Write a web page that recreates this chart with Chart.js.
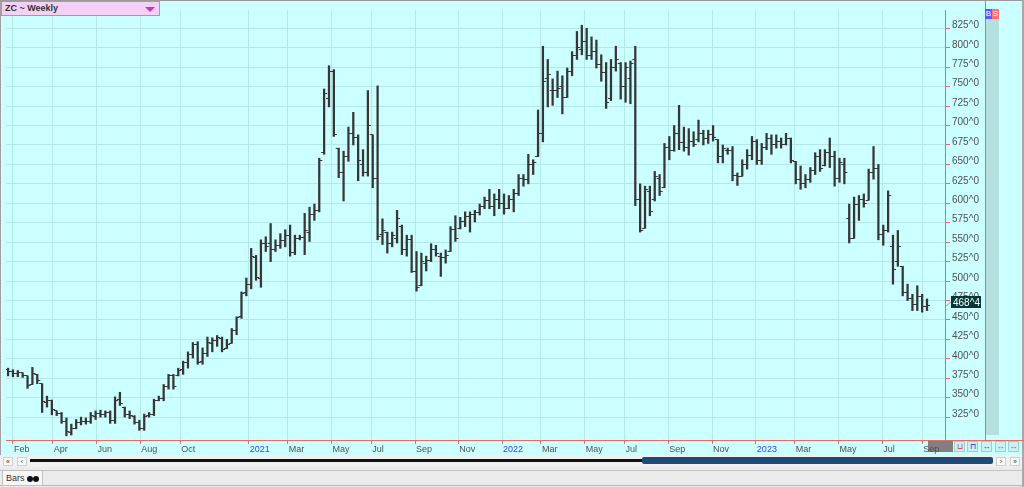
<!DOCTYPE html>
<html>
<head>
<meta charset="utf-8">
<script src="https://cdn.jsdelivr.net/npm/chart.js@4/dist/chart.umd.min.js"></script>
<style>
body{margin:0;width:1024px;height:487px;overflow:hidden;background:#ececec;font-family:"Liberation Sans",Arial,sans-serif;position:relative}
#pane{position:absolute;left:0;top:0;width:1024px;height:455px;background:#ccffff}
#wrap{position:absolute;left:1px;top:2px;width:984px;height:453px}
.abs{position:absolute}
#title{left:1px;top:1px;background:#f5d0f6;border:1px solid #d47ad6;font-size:9px;font-weight:bold;color:#333;line-height:13px;padding-left:3px;box-sizing:border-box;width:159px;height:15px}
#tri{right:4px;top:5px;width:0;height:0;border-left:5px solid transparent;border-right:5px solid transparent;border-top:5px solid #c832c8}
.btn{top:441px;width:11px;height:11px;background:#c8f2f2;border:1px solid #9cd0d0;box-sizing:border-box;font-size:8px;line-height:9px;text-align:center}
.sbtn{top:457px;width:10px;height:9px;background:#fafafa;border:1px solid #cfcfcf;box-sizing:border-box;font-size:7px;line-height:7px;text-align:center;color:#333}
</style>
</head>
<body>
<div id="pane"></div>
<div class="abs" style="left:0;top:0;width:1024px;height:1px;background:#9a9a9a"></div>
<div class="abs" style="left:0;top:0;width:1px;height:455px;background:#a0a0a0"></div>
<div class="abs" style="left:1022px;top:0;width:2px;height:487px;background:#a8a8a8"></div>
<div class="abs" style="left:986px;top:9px;width:13px;height:426px;background:#b6e0e0"></div>
<div class="abs" style="left:985px;top:0;width:1px;height:440px;background:#e86a6a"></div>
<div class="abs" style="left:945px;top:440px;width:79px;height:1px;background:#e86a6a"></div>
<div class="abs" style="left:928px;top:441px;width:25px;height:11px;background:#808080"></div>
<div class="abs" style="left:985px;top:9px;width:7px;height:10px;background:#5a5aff;color:#fff;font-size:8px;line-height:10px;text-align:center">B</div>
<div class="abs" style="left:992px;top:9px;width:7px;height:10px;background:#ff7272;color:#fff;font-size:8px;line-height:10px;text-align:center">S</div>
<div class="abs btn" style="left:954px;color:#e03030">&#8852;</div>
<div class="abs btn" style="left:967px;color:#2a2ae0">&#8851;</div>
<div class="abs btn" style="left:981px;color:#2a2ae0">&#8596;</div>
<div class="abs btn" style="left:995px;color:#20b020">&#8596;</div>
<div class="abs btn" style="left:1008px;color:#e03030">&#8596;</div>
<div id="wrap"><canvas id="chart" width="984" height="453"></canvas></div>
<div class="abs" id="title">ZC ~ Weekly<div class="abs" id="tri"></div></div>
<!-- scroll bar row -->
<div class="abs" style="left:0;top:455px;width:1022px;height:12px;background:#f0f0f0"></div>
<div class="abs sbtn" style="left:3px">&laquo;</div>
<div class="abs sbtn" style="left:17px">&lsaquo;</div>
<div class="abs" style="left:30px;top:459px;width:612px;height:3px;background:#111"></div>
<div class="abs" style="left:642px;top:457px;width:351px;height:7px;background:#1f4a77;border-radius:2px"></div>
<div class="abs sbtn" style="left:996px">&rsaquo;</div>
<div class="abs sbtn" style="left:1010px">&raquo;</div>
<!-- bottom tab row -->
<div class="abs" style="left:0;top:467px;width:1022px;height:20px;background:#ebebeb"></div>
<div class="abs" style="left:0;top:470px;width:1022px;height:1px;background:#c4c4c4"></div>
<div class="abs" style="left:0;top:485px;width:1022px;height:1px;background:#b8b8b8"></div>
<div class="abs" style="left:2px;top:470px;width:41px;height:16px;background:#f7f7f7;border:1px solid #c0c0c0;box-sizing:border-box;font-size:9px;line-height:14px;color:#333;padding-left:3px">Bars <span style="display:inline-block;width:6px;height:6px;border-radius:3px;background:#111;vertical-align:-1px"></span><span style="display:inline-block;width:6px;height:6px;border-radius:3px;background:#111;vertical-align:-1px"></span></div>
<script>
// weekly ZC bars, week 0 = last week of Jan 2020
const opens = [
  386,384,381,382,378,367,380,368,344,346,333,330,320,305,311,318,320,319,326,330,
  328,331,321,348,338,329,326,318,310,327,328,347,349,364,378,379,386,395,405,418,
  396,407,420,423,426,413,420,437,455,485,496,530,503,548,548,540,546,552,558,537,
  555,556,562,585,591,665,735,770,670,640,660,690,685,650,640,688,632,560,562,548,
  555,570,540,553,512,494,522,526,540,532,530,538,566,567,577,583,585,588,596,603,
  596,605,600,593,605,612,632,630,650,660,690,760,745,745,750,736,770,790,798,808,
  790,795,778,768,735,775,780,750,760,785,605,568,615,605,632,620,672,668,690,678,
  672,680,682,690,683,688,682,660,668,668,636,635,650,662,680,655,672,683,676,680,
  675,683,654,630,625,630,642,660,648,665,660,632,650,580,555,598,605,604,640,645,
  560,565,545,525,519,485,478,470,480,467
];
const highs = [
  388,386,385,382,378,389,380,368,352,347,333,331,324,316,322,325,324,331,333,334,
  333,333,351,357,338,333,327,321,329,331,348,352,367,380,380,388,397,409,421,422,
  414,428,427,430,428,425,439,454,486,504,542,533,553,557,574,553,561,566,572,559,
  559,587,595,599,658,747,777,772,671,667,698,717,688,669,745,688,751,580,563,563,
  591,572,559,559,538,536,532,548,546,536,540,570,584,582,589,589,591,599,608,618,
  612,618,612,610,618,637,637,663,656,720,802,785,760,770,764,774,795,821,829,825,
  814,810,791,781,785,802,781,781,783,802,625,622,622,641,637,677,686,700,726,698,
  696,692,707,694,694,700,682,675,671,673,639,656,669,686,682,677,690,688,688,684,
  690,684,654,648,637,646,665,669,669,684,667,658,658,599,608,610,612,644,673,650,
  572,616,559,565,519,496,483,494,483,477
];
const lows = [
  378,377,377,376,362,367,368,331,338,328,327,317,301,302,310,315,316,317,322,325,
  325,317,317,340,325,323,316,308,308,325,327,346,346,361,361,378,380,388,401,393,
  393,403,409,416,409,413,420,431,452,481,490,501,492,538,525,538,542,544,532,534,
  553,534,551,578,589,663,724,686,633,603,654,675,629,635,635,620,553,547,536,544,
  549,534,532,511,487,494,513,525,532,506,523,538,551,567,570,563,576,585,593,593,
  584,593,586,593,589,610,622,625,637,660,679,724,726,736,715,736,764,785,791,785,
  785,774,757,722,732,770,734,730,728,597,563,568,584,603,610,620,656,667,669,667,
  662,673,679,675,677,680,652,652,663,629,623,635,644,656,650,650,669,663,671,671,
  675,652,625,618,620,627,637,641,648,646,622,627,625,549,555,578,595,604,631,553,
  546,563,496,519,481,475,462,462,460,462
];
const closes = [
  384,381,382,378,366,381,372,345,347,335,330,320,306,311,318,320,319,327,330,328,
  331,321,347,343,329,327,318,310,326,328,346,349,365,378,364,385,395,405,418,395,
  407,421,423,427,412,419,437,453,484,496,531,505,548,545,540,546,552,558,537,555,
  556,565,585,591,655,741,770,688,640,660,690,685,655,640,700,632,557,565,548,558,
  580,540,553,512,492,525,526,540,535,530,533,566,555,577,583,585,588,596,603,596,
  605,600,593,605,612,632,630,650,653,690,757,766,745,748,736,770,790,800,808,790,
  795,778,768,730,775,785,750,775,780,605,565,618,590,635,615,672,668,690,678,672,
  680,676,690,683,688,685,660,670,668,636,635,650,662,680,655,672,683,676,680,675,
  683,655,630,625,630,642,660,645,665,660,632,652,640,555,598,605,600,640,645,560,
  565,610,515,545,485,478,470,480,467,468.5
];

// axis ticks
const priceTicks = [325,350,375,400,425,450,475,500,525,550,575,600,625,650,675,700,725,750,775,800,825];
const tickLabels = ['Feb','Apr','Jun','Aug','Oct','2021','Mar','May','Jul','Sep','Nov',
  '2022','Mar','May','Jul','Sep','Nov','2023','Mar','May','Jul','Sep'];
const tickWeeks = [1,9.2,18.2,27.2,35.4,49.5,57.5,66.5,74.7,83.7,92.6,
  101.6,109.6,118.6,126.8,135.8,144.8,153.8,161.8,170.8,179.8,188];

const barColor = '#363636';

// little horizontal tick drawn left (open) or right (close) of the bar
function tickMark(side){
    const c = document.createElement('canvas');
    c.width = 8;
    c.height = 1;
    const g = c.getContext('2d');
    g.fillStyle = barColor;
    if(side === 'open'){
        g.fillRect(1, 0, 3, 1);
    } else {
        g.fillRect(4, 0, 3, 1);
    }
    return c;
}

const rangeData = highs.map((h, i) => ({x: i, y: [lows[i], h]}));
const openData = opens.map((v, i) => ({x: i, y: v}));
const closeData = closes.map((v, i) => ({x: i, y: v}));

function priceText(v){
    return Math.floor(v) + '^' + Math.round((v % 1) * 8);
}

const lastPriceLabel = {
    id: 'lastPrice',
    afterDraw(chart){
        const ctx = chart.ctx;
        const last = closes[closes.length - 1];
        const y = Math.round(chart.scales.y.getPixelForValue(last)) - 4;
        const x = chart.chartArea.right + 6;
        ctx.save();
        ctx.strokeStyle = '#9a9a9a';
        ctx.lineWidth = 1;
        ctx.beginPath();
        ctx.moveTo(x - 5, y + 4);
        ctx.lineTo(x, y);
        ctx.stroke();
        ctx.fillStyle = '#073838';
        ctx.fillRect(x, y - 6, 30, 12);
        ctx.fillStyle = '#ffffff';
        ctx.font = '10px "Liberation Sans", Arial, sans-serif';
        ctx.textBaseline = 'middle';
        ctx.fillText(priceText(last), x + 2, y + 1);
        ctx.restore();
    }
};

new Chart(document.getElementById('chart'), {
    type: 'bar',
    data: {
        datasets: [{
            label: 'High-Low',
            data: rangeData,
            backgroundColor: barColor,
            borderWidth: 0,
            barThickness: 1.6
        }, {
            type: 'line',
            label: 'Open',
            data: openData,
            showLine: false,
            pointStyle: tickMark('open'),
            pointRadius: 3
        }, {
            type: 'line',
            label: 'Close',
            data: closeData,
            showLine: false,
            pointStyle: tickMark('close'),
            pointRadius: 3
        }]
    },
    options: {
        responsive: false,
        animation: false,
        devicePixelRatio: 1,
        layout: {padding: 0},
        plugins: {
            legend: {display: false},
            tooltip: {enabled: false}
        },
        scales: {
            x: {
                type: 'linear',
                min: -0.43,
                max: 192.7,
                offset: false,
                afterFit: scale => { scale.height = 15; },
                afterBuildTicks: scale => {
                    scale.ticks = tickWeeks.map(w => ({value: w}));
                },
                grid: {
                    offset: false,
                    color: '#b4e8e8',
                    tickColor: '#e86a6a',
                    tickLength: 4
                },
                border: {color: '#e86a6a'},
                ticks: {
                    autoSkip: false,
                    maxRotation: 0,
                    align: 'start',
                    labelOffset: 1,
                    padding: 0,
                    font: {family: '"Liberation Sans", Arial, sans-serif', size: 9},
                    color: ctx => /^\d{4}$/.test(ctx.tick.label) ? '#3c3cff' : '#505050',
                    callback: (v, i) => tickLabels[i]
                }
            },
            y: {
                position: 'right',
                min: 295.6,
                max: 848.6,
                afterFit: scale => { scale.width = 40; },
                afterBuildTicks: scale => {
                    scale.ticks = priceTicks.map(v => ({value: v}));
                },
                grid: {
                    color: '#b4e8e8',
                    tickColor: '#e86a6a',
                    tickLength: 5
                },
                border: {color: '#e86a6a'},
                ticks: {
                    padding: 2,
                    labelOffset: -3,
                    font: {family: '"Liberation Sans", Arial, sans-serif', size: 10},
                    color: '#505050',
                    callback: v => v + '^0'
                }
            }
        }
    },
    plugins: [lastPriceLabel]
});
</script>
</body>
</html>
